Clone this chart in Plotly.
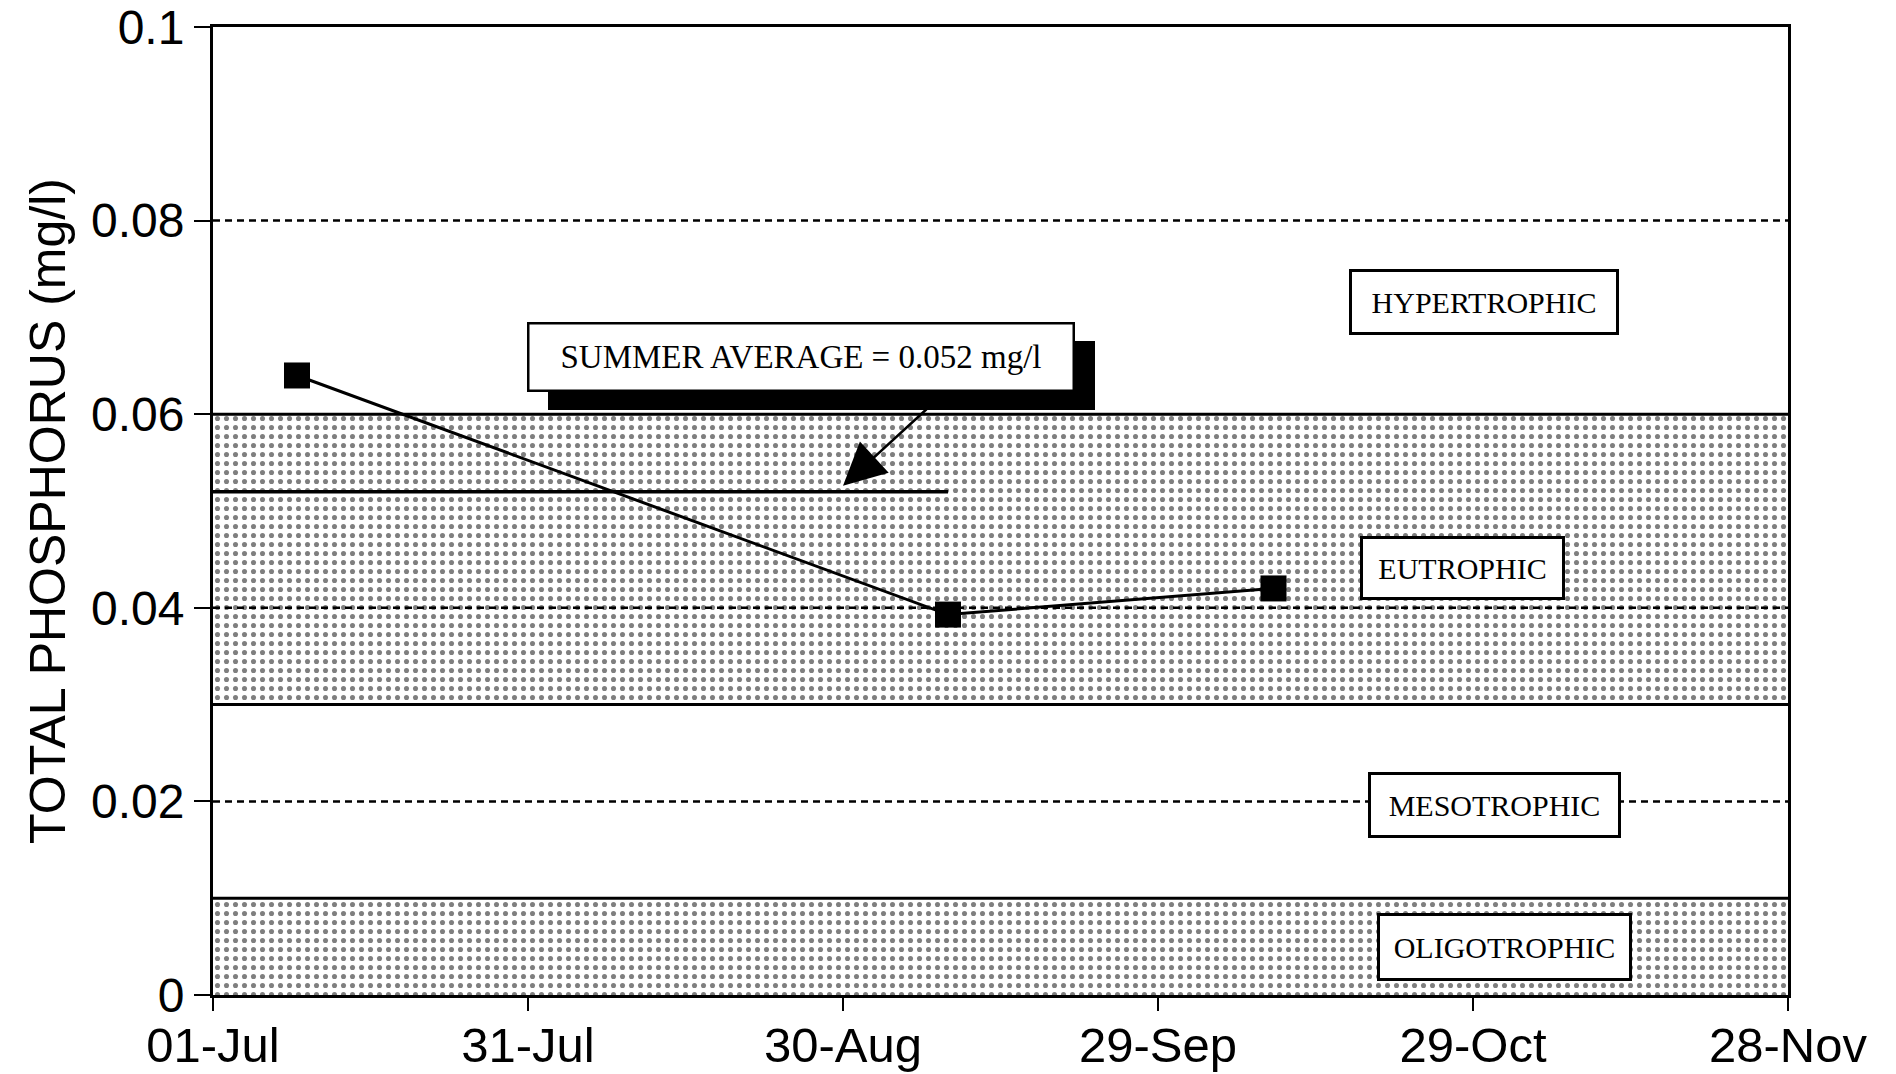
import plotly.graph_objects as go

# ---------------- data ----------------
sample_dates = ["1991-07-09", "1991-09-09", "1991-10-10"]
total_phosphorus = [0.064, 0.0393, 0.042]

summer_average = 0.052
summer_average_dates = ["1991-07-01", "1991-09-09"]

x_start = "1991-07-01"
x_end = "1991-11-28"
x_tick_dates = ["1991-07-01", "1991-07-31", "1991-08-30", "1991-09-29", "1991-10-29", "1991-11-28"]
x_tick_labels = ["01-Jul", "31-Jul", "30-Aug", "29-Sep", "29-Oct", "28-Nov"]

y_tick_values = [0, 0.02, 0.04, 0.06, 0.08, 0.1]
y_tick_labels = ["0", "0.02", "0.04", "0.06", "0.08", "0.1"]

shaded_band_bottoms = [0.0, 0.03]
shaded_band_tops = [0.01, 0.06]
boundary_levels = [0.01, 0.03, 0.06]
dashed_levels = [0.02, 0.04, 0.08]

state_labels = ["HYPERTROPHIC", "EUTROPHIC", "MESOTROPHIC", "OLIGOTROPHIC"]
state_label_dates = ["1991-10-30", "1991-10-28", "1991-10-31", "1991-11-01"]
state_label_values = [0.0716, 0.0441, 0.0196, 0.0050]

summer_text = "SUMMER AVERAGE = 0.052 mg/l"
summer_box_date = "1991-08-26"
summer_box_value = 0.0659
arrow_tip_date = "1991-08-30"
arrow_tip_value = 0.0526

# ---------------- figure ----------------
SANS = "Liberation Sans, Arial, Helvetica, sans-serif"
SERIF = "Liberation Serif, Times New Roman, serif"

fig = go.Figure()

# shaded trophic bands (dot pattern)
for lo, hi in zip(shaded_band_bottoms, shaded_band_tops):
    fig.add_trace(go.Scatter(
        x=[x_start, x_end, x_end, x_start, x_start],
        y=[lo, lo, hi, hi, lo],
        mode="lines", fill="toself",
        line=dict(width=0, color="rgba(0,0,0,0)"),
        fillcolor="white",
        fillpattern=dict(shape=".", fgcolor="#000000", bgcolor="#ffffff",
                         size=9, solidity=0.25),
        hoverinfo="skip", showlegend=False))

# dashed reference levels
for lv in dashed_levels:
    fig.add_trace(go.Scatter(
        x=[x_start, x_end], y=[lv, lv], mode="lines",
        line=dict(color="black", width=2.5, dash="7px,5px"),
        hoverinfo="skip", showlegend=False))

# solid band boundaries
for lv in boundary_levels:
    fig.add_trace(go.Scatter(
        x=[x_start, x_end], y=[lv, lv], mode="lines",
        line=dict(color="black", width=3),
        hoverinfo="skip", showlegend=False))

# summer average line
fig.add_trace(go.Scatter(
    x=summer_average_dates, y=[summer_average] * len(summer_average_dates),
    mode="lines", line=dict(color="black", width=3.5),
    hoverinfo="skip", showlegend=False))

# measured total phosphorus
fig.add_trace(go.Scatter(
    x=sample_dates, y=total_phosphorus, mode="lines+markers",
    line=dict(color="black", width=3),
    marker=dict(symbol="square", size=26, color="black"),
    showlegend=False))

annotations = []
# trophic state label boxes
box_sizes = [(262, 58), (197, 56), (245, 58), (247, 60)]
for txt, d, v, (w, h) in zip(state_labels, state_label_dates, state_label_values, box_sizes):
    annotations.append(dict(
        x=d, y=v, xref="x", yref="y", text=txt, showarrow=False,
        xanchor="center", yanchor="middle", width=w, height=h,
        bgcolor="white", bordercolor="black", borderwidth=3,
        font=dict(family=SERIF, size=30, color="black")))

# summer average callout: shadow, box, arrow
annotations.append(dict(
    x=summer_box_date, y=summer_box_value, xref="x", yref="y", text=" ",
    showarrow=False, xanchor="center", yanchor="middle", width=541, height=63,
    xshift=20, yshift=-18, bgcolor="black", bordercolor="black", borderwidth=2,
    font=dict(family=SERIF, size=33, color="black")))
annotations.append(dict(
    x=summer_box_date, y=summer_box_value, xref="x", yref="y", text=summer_text,
    showarrow=False, xanchor="center", yanchor="middle", width=541, height=63,
    bgcolor="white", bordercolor="black", borderwidth=2.5,
    font=dict(family=SERIF, size=33, color="black")))
annotations.append(dict(
    x=arrow_tip_date, y=arrow_tip_value, xref="x", yref="y", text="",
    showarrow=True, ax=85, ay=-78, arrowhead=2, arrowsize=3.4,
    arrowwidth=2.5, arrowcolor="black", standoff=0))

fig.update_layout(
    width=1896, height=1074,
    margin=dict(l=213, r=108, t=27, b=79, autoexpand=False),
    paper_bgcolor="white", plot_bgcolor="white",
    showlegend=False,
    annotations=annotations,
    font=dict(family=SANS, color="black"),
)

fig.update_xaxes(
    type="date", range=[x_start, x_end], automargin=False,
    tickmode="array", tickvals=x_tick_dates, ticktext=x_tick_labels,
    tickfont=dict(family=SANS, size=49, color="black"),
    ticks="outside", ticklen=13, tickwidth=2, tickcolor="black",
    ticklabelstandoff=-8, ticklabeloverflow="allow",
    showline=True, linecolor="black", linewidth=3, mirror=True,
    showgrid=False, zeroline=False,
)
fig.update_yaxes(
    range=[0, 0.1], automargin=False,
    tickmode="array", tickvals=y_tick_values, ticktext=y_tick_labels,
    tickfont=dict(family=SANS, size=48, color="black"),
    ticks="outside", ticklen=16, tickwidth=2, tickcolor="black",
    ticklabeloverflow="allow",
    showline=True, linecolor="black", linewidth=3, mirror=True,
    showgrid=False, zeroline=False,
    title=dict(text="TOTAL PHOSPHORUS (mg/l)", standoff=10,
               font=dict(family=SANS, size=50, color="black")),
)

# remove the default 8px page margin so the figure fills the window exactly
fig.write_html("out.html", config={"displayModeBar": False},
               post_script="document.body.style.margin='0px';")
